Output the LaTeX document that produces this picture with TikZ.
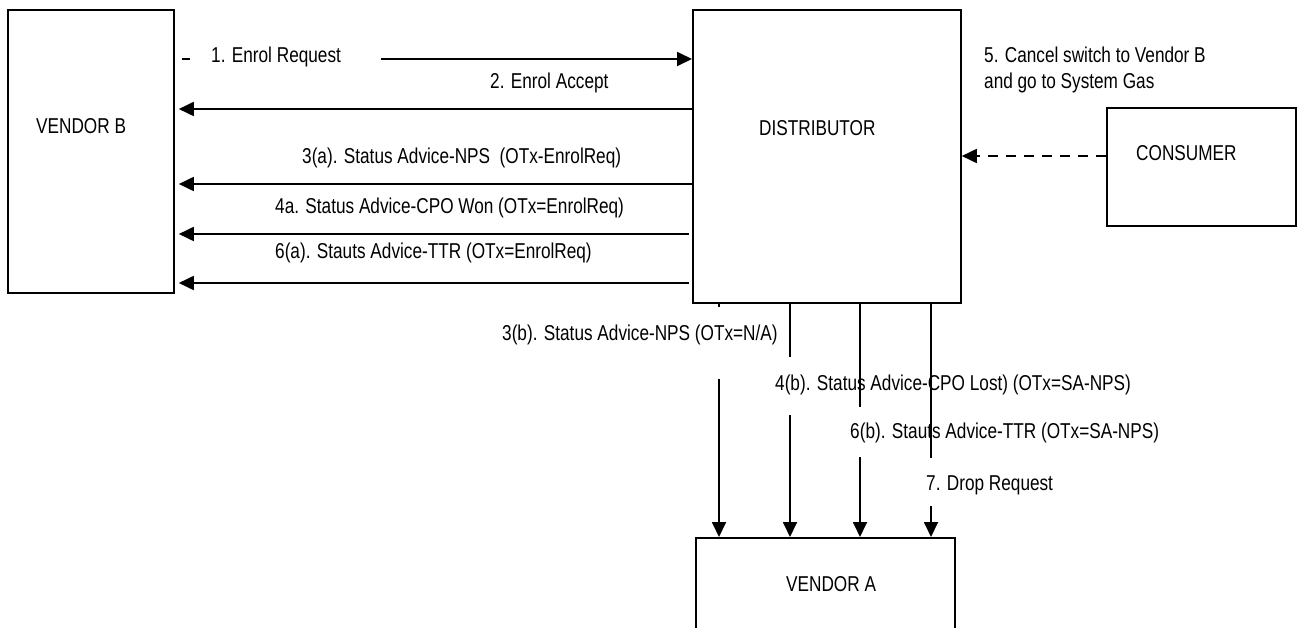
\documentclass[tikz,border=0pt]{standalone}
\usepackage{fontspec}
\setmainfont{Liberation Sans}[FakeStretch=0.8]
\usetikzlibrary{arrows.meta}
\begin{document}
\begin{tikzpicture}[x=1pt,y=-1pt,
  box/.style={draw, line width=1.8pt, inner sep=0pt, anchor=north west},
  txt/.style={inner sep=0pt, anchor=base west, font=\fontsize{21.5}{26}\selectfont},
  ln/.style={line width=1.8pt},
  arr/.style={line width=1.8pt, -{Triangle[length=15pt,width=14pt]}}]
\useasboundingbox (0,0) rectangle (1299,628);
% boxes
\node[box, minimum width=166pt, minimum height=283pt] (vb) at (7,9) {};
\node[box, minimum width=268pt, minimum height=293pt] (dist) at (692,9) {};
\node[box, minimum width=189pt, minimum height=118pt] (cons) at (1106,107) {};
\node[box, minimum width=259pt, minimum height=140pt] (va) at (695,537) {};
% box texts
\node[txt] (tvb) at (36,134) {VENDOR B};
\node[txt] (tdist) at (759,136) {DISTRIBUTOR};
\node[txt] (tcons) at (1136,161) {CONSUMER};
\node[txt] (tva) at (786,591) {VENDOR A};
% 1. Enrol request
\coordinate (a1s) at (182,59);
\coordinate (a1d) at (190,59);
\coordinate (a1b) at (381,59);
\draw[ln] (a1s) -- (a1d);
\draw[arr] (a1b) -- (dist.west |- a1b);
\node[txt] (l1) at (211,63) {1. Enrol Request};
% 2. Enrol Accept
\coordinate (y2) at (0,109);
\draw[arr, shorten >=4pt] (dist.west |- y2) -- (vb.east |- y2);
\node[txt] (l2) at (490,89) {2. Enrol Accept};
% 3(a)
\coordinate (y3) at (0,184);
\draw[arr, shorten >=4pt] (dist.west |- y3) -- (vb.east |- y3);
\node[txt] (l3a) at (302,164) {3(a). Status Advice-NPS\ \ (OTx-EnrolReq)};
% 4a
\coordinate (s4) at (689,234);
\draw[arr, shorten >=4pt] (s4) -- (vb.east |- s4);
\node[txt] (l4a) at (275,214) {4a. Status Advice-CPO Won (OTx=EnrolReq)};
% 6(a)
\coordinate (s6) at (689,283);
\draw[arr, shorten >=4pt] (s6) -- (vb.east |- s6);
\node[txt] (l6a) at (275,259) {6(a). Stauts Advice-TTR (OTx=EnrolReq)};
% 5. consumer
\coordinate (y5) at (0,156);
\draw[arr, dash pattern=on 10pt off 8pt] (cons.west |- y5) -- (dist.east |- y5);
\node[txt, anchor=west, align=left] (l5) at (984,70) {5. Cancel switch to Vendor B\\and go to System Gas};
% vertical connectors to Vendor A
\coordinate (g1a) at (719,307); \coordinate (g1b) at (719,379);
\coordinate (g2a) at (790,357); \coordinate (g2b) at (790,415);
\coordinate (g3a) at (860,407); \coordinate (g3b) at (860,457);
\coordinate (g4a) at (931,458); \coordinate (g4b) at (931,506);
\draw[ln] (dist.south -| g1a) -- (g1a);
\draw[arr] (g1b) -- (va.north -| g1b);
\draw[ln] (dist.south -| g2a) -- (g2a);
\draw[arr] (g2b) -- (va.north -| g2b);
\node[txt] (l3b) at (502,341) {3(b). Status Advice-NPS (OTx=N/A)};
\node[txt] (l4b) at (775,390) {4(b). Status Advice-CPO Lost) (OTx=SA-NPS)};
\node[txt] (l6b) at (850,438) {6(b). Stauts Advice-TTR (OTx=SA-NPS)};
\node[txt] (l7) at (926,490) {7. Drop Request};
\draw[ln] (dist.south -| g3a) -- (g3a);
\draw[arr] (g3b) -- (va.north -| g3b);
\draw[ln] (dist.south -| g4a) -- (g4a);
\draw[arr] (g4b) -- (va.north -| g4b);
\end{tikzpicture}
\end{document}
